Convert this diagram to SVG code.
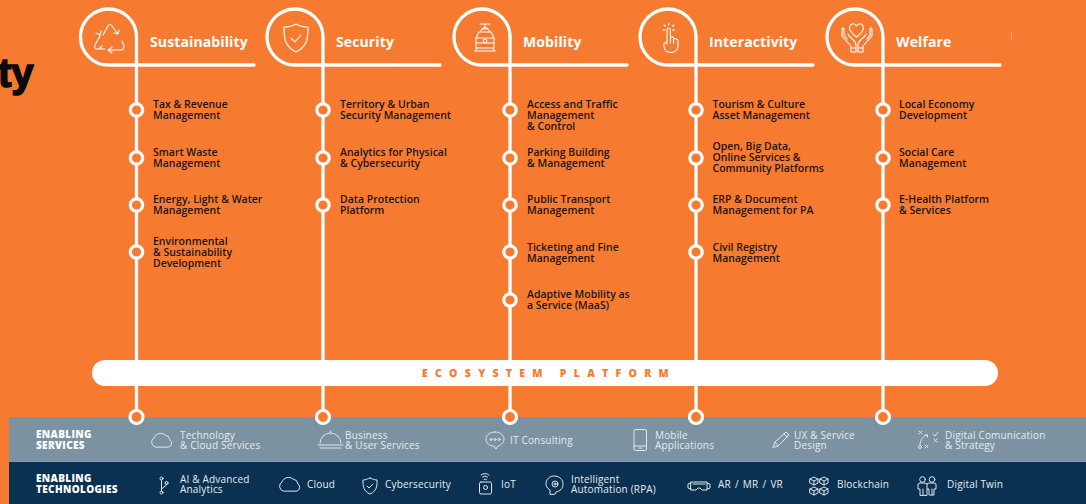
<svg xmlns="http://www.w3.org/2000/svg" width="1086" height="504" viewBox="0 0 1086 504">
<style>
text{font-family:"Open Sans","Noto Sans","Liberation Sans",sans-serif}
.h{font-size:14px;font-weight:700;fill:#fff;letter-spacing:.12px}
.i{font-size:10.500px;font-weight:600;fill:#1d1410}
.s{font-size:10px;fill:#e6ecef;letter-spacing:.18px}
.t{font-size:10px;font-weight:800;fill:#fff;letter-spacing:.35px}
.w{fill:none;stroke:#fff;stroke-width:3.300;stroke-linecap:round}
.d{fill:#f67b31;stroke:#fff;stroke-width:3.200}
.ic{fill:none;stroke:#fff;stroke-width:1.100;stroke-linecap:round;stroke-linejoin:round}
.ic2{fill:none;stroke:#dfe7eb;stroke-width:1;stroke-linecap:round;stroke-linejoin:round}
</style>
<rect width="1086" height="504" fill="#f67b31"/>
<text x="-2" y="87" style="font-family:'Liberation Sans',sans-serif;font-size:40px;font-weight:700;fill:#0a0a0a;stroke:#0a0a0a;stroke-width:1.600">ty</text>
<rect x="9" y="417" width="1077" height="44" fill="#7a92a1"/>
<rect x="9" y="462" width="1077" height="42" fill="#0b3152"/>

<g id="connectors">
<path class="w" d="M136.500 37V417M323 37V417M510 37V417M696 37V417M883 37V417"/>
<path class="w" d="M254 65H108.500A28 28 0 1 1 136.500 37"/>
<path class="w" d="M440 65H295A28 28 0 1 1 323 37"/>
<path class="w" d="M627 65H482A28 28 0 1 1 510 37"/>
<path class="w" d="M813 65H668A28 28 0 1 1 696 37"/>
<path class="w" d="M1000 65H855A28 28 0 1 1 883 37"/>
</g>

<g id="platform"><rect x="92" y="360" width="906" height="26" rx="13" fill="#fff"/>
<text x="549" y="376.500" text-anchor="middle" style="font-size:10.500px;font-weight:800;fill:#f67b31;letter-spacing:7.300px">ECOSYSTEM PLATFORM</text></g>

<g id="sustainability">
<path class="ic" d="M103 35l5-9c1-2 3-2 4 0l6 8M114 33l4 1 1-4M100 36l-5 9c-1 2 0 4 2 4h8M102 46l-3 3M96 33l4 2 1-4M122 41l2 5c0 2-1 4-3 4h-12M112 47l-4 3 4 3"/>
<text class="h" x="150" y="47">Sustainability</text>
<circle class="d" cx="136.500" cy="110" r="6.200"/><text class="i" x="153" y="108">Tax &amp; Revenue<tspan x="153" dy="11">Management</tspan></text>
<circle class="d" cx="136.500" cy="158" r="6.200"/><text class="i" x="153" y="156">Smart Waste<tspan x="153" dy="11">Management</tspan></text>
<circle class="d" cx="136.500" cy="205" r="6.200"/><text class="i" x="153" y="203">Energy, Light &amp; Water<tspan x="153" dy="11">Management</tspan></text>
<circle class="d" cx="136.500" cy="252" r="6.200"/><text class="i" x="153" y="245">Environmental<tspan x="153" dy="11">&amp; Sustainability</tspan><tspan x="153" dy="11">Development</tspan></text>
<circle class="d" cx="136.500" cy="417" r="6.500"/>
</g>

<g id="security">
<path class="ic" d="M296 24c3 2 7 3 12 3 0 10 0 19-12 25-12-6-12-15-12-25 5 0 9-1 12-3z"/><path class="ic" d="M291 38l4 4 6-7"/>
<text class="h" x="336" y="47">Security</text>
<circle class="d" cx="323" cy="110" r="6.200"/><text class="i" x="340" y="108">Territory &amp; Urban<tspan x="340" dy="11">Security Management</tspan></text>
<circle class="d" cx="323" cy="158" r="6.200"/><text class="i" x="340" y="156">Analytics for Physical<tspan x="340" dy="11">&amp; Cybersecurity</tspan></text>
<circle class="d" cx="323" cy="205" r="6.200"/><text class="i" x="340" y="203">Data Protection<tspan x="340" dy="11">Platform</tspan></text>
<circle class="d" cx="323" cy="417" r="6.500"/>
</g>

<g id="mobility">
<path class="ic" d="M480 24h10M485 24v3l-3 2 6 0-3-2M482 29l-2 3h10l-2-3M479 32h12l3 6v10h-18V38zM477 38h16M476 43h18M477 48l-2 3h20l-2-3"/><circle class="ic" cx="485" cy="41" r="1.800"/>
<text class="h" x="523" y="47">Mobility</text>
<circle class="d" cx="510" cy="110" r="6.200"/><text class="i" x="527" y="108">Access and Traffic<tspan x="527" dy="11">Management</tspan><tspan x="527" dy="11">&amp; Control</tspan></text>
<circle class="d" cx="510" cy="158" r="6.200"/><text class="i" x="527" y="156">Parking Building<tspan x="527" dy="11">&amp; Management</tspan></text>
<circle class="d" cx="510" cy="205" r="6.200"/><text class="i" x="527" y="203">Public Transport<tspan x="527" dy="11">Management</tspan></text>
<circle class="d" cx="510" cy="252" r="6.200"/><text class="i" x="527" y="251">Ticketing and Fine<tspan x="527" dy="11">Management</tspan></text>
<circle class="d" cx="510" cy="300" r="6.200"/><text class="i" x="527" y="298">Adaptive Mobility as<tspan x="527" dy="11">a Service (MaaS)</tspan></text>
<circle class="d" cx="510" cy="417" r="6.500"/>
</g>

<g id="interactivity">
<path class="ic" d="M667 43V30a1.700 1.700 0 0 1 3.400 0V43M670.400 38.500a1.600 1.600 0 0 1 3.200 0V43M673.600 39.500a1.600 1.600 0 0 1 3 0M664 44c0-2 3-2 3 0M664 44v3a7 5.500 0 0 0 14 0v-6a1.500 1.500 0 0 0-1.400-1.500M668.700 23v2M664 25l1.500 1.500M674 25l-1.500 1.500M663 30h2M672.500 30h2"/>
<text class="h" x="709" y="47">Interactivity</text>
<circle class="d" cx="696" cy="110" r="6.200"/><text class="i" x="712.500" y="108">Tourism &amp; Culture<tspan x="712.500" dy="11">Asset Management</tspan></text>
<circle class="d" cx="696" cy="158" r="6.200"/><text class="i" x="712.500" y="150">Open, Big Data,<tspan x="712.500" dy="11">Online Services &amp;</tspan><tspan x="712.500" dy="11">Community Platforms</tspan></text>
<circle class="d" cx="696" cy="205" r="6.200"/><text class="i" x="712.500" y="203">ERP &amp; Document<tspan x="712.500" dy="11">Management for PA</tspan></text>
<circle class="d" cx="696" cy="252" r="6.200"/><text class="i" x="712.500" y="251">Civil Registry<tspan x="712.500" dy="11">Management</tspan></text>
<circle class="d" cx="696" cy="417" r="6.500"/>
</g>

<g id="welfare">
<path class="ic" d="M856.500 37c-4-3-7-6-7-9 0-4 5-6 7-2 2-4 7-2 7 2 0 3-3 6-7 9z"/>
<path class="ic" d="M843 28l-1 1v7l9 10v6h5v-7c0-3-2-5-7-9l-1-2M843 28l1 1v6l3 4M871 28l1 1v7l-9 10v6h-5v-7c0-3 2-5 7-9l1-2M871 28l-1 1v6l-3 4M851 48h5M858 48h5"/>
<text class="h" x="896" y="47">Welfare</text>
<circle class="d" cx="883" cy="110" r="6.200"/><text class="i" x="899" y="108">Local Economy<tspan x="899" dy="11">Development</tspan></text>
<circle class="d" cx="883" cy="158" r="6.200"/><text class="i" x="899" y="156">Social Care<tspan x="899" dy="11">Management</tspan></text>
<circle class="d" cx="883" cy="205" r="6.200"/><text class="i" x="899" y="203">E-Health Platform<tspan x="899" dy="11">&amp; Services</tspan></text>
<circle class="d" cx="883" cy="417" r="6.500"/>
</g>

<g id="enabling-services">
<text class="t" x="36" y="438">ENABLING<tspan x="36" dy="11">SERVICES</tspan></text>
<path class="ic2" d="M155 447a5 5 0 0 1-1-9 7 7 0 0 1 11-3 6 6 0 0 1 5 5 4 4 0 0 1-1 7z"/>
<text class="s" x="180" y="438.500">Technology<tspan x="180" dy="10">&amp; Cloud Services</tspan></text>
<path class="ic2" d="M320 443a10.500 10 0 0 1 21 0M318 445h25M320 448h21M330.500 433v-2"/>
<text class="s" x="345" y="438.500">Business<tspan x="345" dy="10">&amp; User Services</tspan></text>
<path class="ic2" d="M495 432c-5 0-9 3-9 7s3 7 8 7l2 3 2-3c4-1 6-4 6-7 0-4-4-7-9-7z"/><circle class="ic2" cx="491" cy="439.500" r="1"/><circle class="ic2" cx="495" cy="439.500" r="1"/><circle class="ic2" cx="499" cy="439.500" r="1"/>
<text class="s" x="510" y="443.500">IT Consulting</text>
<rect class="ic2" x="634" y="429.500" width="12.500" height="21" rx="1.500"/><path class="ic2" d="M634 446h12.500M639 448h3"/>
<text class="s" x="655" y="438.500">Mobile<tspan x="655" dy="10">Applications</tspan></text>
<path class="ic2" d="M773 447l2-5 11-10 3 3-11 11zM775 442l3 4M784 434l3 3"/>
<text class="s" x="794" y="438.500">UX &amp; Service<tspan x="794" dy="10">Design</tspan></text>
<path class="ic2" d="M919 431l3 3m0-3-3 3M933 434l2 2 3-4M934 439l3 3m0-3-3 3M925 445l3 3m0-3-3 3M920 445c0-5 3-9 7-10m-2 0h2.500v2"/><circle class="ic2" cx="920" cy="447" r="1.500"/>
<text class="s" x="945" y="438.500">Digital Comunication<tspan x="945" dy="10">&amp; Strategy</tspan></text>
</g>

<g id="enabling-technologies">
<text class="t" x="36" y="482">ENABLING<tspan x="36" dy="11">TECHNOLOGIES</tspan></text>
<path class="ic2" d="M161.500 480v11M161.500 489l5-4v-1"/><circle class="ic2" cx="161.500" cy="478.500" r="1.500"/><circle class="ic2" cx="161.500" cy="492.500" r="1.500"/><circle class="ic2" cx="166.500" cy="483" r="1.500"/>
<text class="s" x="180" y="483">AI &amp; Advanced<tspan x="180" dy="10">Analytics</tspan></text>
<path class="ic2" d="M283 491a5 5 0 0 1-1-9 7 7 0 0 1 11-3 6 6 0 0 1 5 5 4 4 0 0 1-1 7z"/>
<text class="s" x="307" y="488">Cloud</text>
<path class="ic2" d="M370 478c2 1 5 2 7 2 0 6 0 11-7 14-7-3-7-8-7-14 2 0 5-1 7-2z"/><path class="ic2" d="M367 486l2 2 4-4"/>
<text class="s" x="385" y="488">Cybersecurity</text>
<path class="ic2" d="M481 475a6 6 0 0 1 8 0M482.500 477a4 4 0 0 1 5 0M484 479.500a2 2 0 0 1 2.500 0"/><rect class="ic2" x="479.500" y="482" width="12" height="12" rx="1.500"/><circle class="ic2" cx="485.500" cy="487.500" r="2"/>
<text class="s" x="501" y="488">IoT</text>
<path class="ic2" d="M550 494v-4c-3-2-4-4-4-6 0-5 4-8 8-8 6 0 9 4 9 8 0 5-3 7-7 8l-1 2z"/><circle class="ic2" cx="555" cy="484" r="3"/><circle class="ic2" cx="555" cy="484" r="1"/>
<text class="s" x="571" y="483">Intelligent<tspan x="571" dy="10">Automation (RPA)</tspan></text>
<path class="ic2" d="M691 482h16v8h-5l-2-2h-2l-2 2h-5zM691 483l-3 1v4l3 1M707 483l3 1v4l-3 1M693 484h12"/>
<text class="s" x="718" y="488" style="word-spacing:1.300px">AR / MR / VR</text>
<path class="ic2" d="M810 479l4-2 4 2v4l-4 2-4-2zM820 479l4-2 4 2v4l-4 2-4-2zM810 489l4-2 4 2v4l-4 2-4-2zM820 489l4-2 4 2v4l-4 2-4-2zM810 479l4 2 4-2M814 481v4M820 479l4 2 4-2M824 481v4M810 489l4 2 4-2M814 491v4M820 489l4 2 4-2M824 491v4"/>
<text class="s" x="837" y="488">Blockchain</text>
<circle class="ic2" cx="922.500" cy="479.500" r="2.800"/><circle class="ic2" cx="932" cy="479.500" r="2.800"/><path class="ic2" d="M920 495v-6h-2v-5l2-1h5l2 1 2-1h5l2 1v5h-2v6h-5v-6h-2v6zM923 489v6M932 489v6M927 484v5"/>
<text class="s" x="947" y="488">Digital Twin</text>
</g>
<path d="M1011.500 33v7" stroke="#fff" stroke-opacity=".5" stroke-width="1"/>
</svg>
